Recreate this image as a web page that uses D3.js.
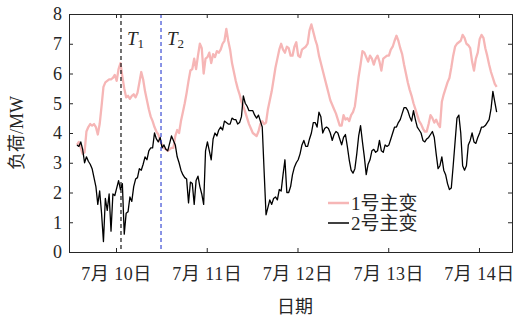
<!DOCTYPE html>
<html>
<head>
<meta charset="utf-8">
<script src="https://cdn.jsdelivr.net/npm/d3@7"></script>
<style>
  html, body { margin: 0; padding: 0; background: #fff; }
  text { font-family: "Liberation Serif", "Noto Sans CJK SC", serif; fill: #262626; }
</style>
</head>
<body>
<svg id="chart" width="514" height="316"></svg>
<script>
// ---- data ----
const startDay = 9.57;              // first sample (day of July)
const stepDay = 1 / 48;             // half-hourly samples
const seriesNames = ["1号主变", "2号主变"];
const load1 = [3.6,3.7,3.5,3.3,3.35,4.05,4.2,4.3,4.25,4.3,4.2,3.95,4.3,4.9,5.55,5.7,5.75,5.8,5.8,5.85,
  5.95,5.75,6.15,6.35,5.9,5.5,5.2,5.25,5.15,5.25,5.3,5.2,5.35,5.7,6.05,5.8,5.4,5.1,4.8,4.55,
  4.4,4.2,4.05,3.95,3.75,3.6,3.5,3.45,3.4,3.45,3.5,3.5,3.9,4.1,4.0,4.4,4.7,5.0,5.35,5.75,
  6.1,6.15,6.5,6.15,6.6,7.0,6.85,6.0,6.5,6.55,6.7,6.35,6.65,6.55,6.75,6.7,6.8,7.0,7.1,7.5,
  7.1,6.8,6.35,6.05,5.75,5.5,5.3,5.05,4.9,4.7,4.5,4.3,4.15,4.0,3.95,3.9,4.05,4.3,4.4,4.3,
  4.35,4.8,5.1,5.4,5.8,6.2,6.5,6.8,7.0,6.8,6.7,6.9,6.85,6.6,6.6,6.9,7.05,6.6,6.55,6.8,
  6.85,6.9,7.0,7.45,7.65,7.4,7.15,6.95,6.6,6.35,6.1,5.85,5.6,5.35,5.1,4.95,4.8,4.65,4.45,4.25,
  4.25,4.6,4.45,4.5,4.4,4.6,4.7,4.9,5.4,5.9,6.3,6.75,6.7,6.55,6.4,6.6,6.5,6.3,6.5,6.6,
  6.4,6.1,6.5,6.55,6.6,6.6,6.8,6.9,7.1,7.27,7.1,6.85,6.65,6.3,6.0,5.7,5.45,5.25,5.0,4.8,
  4.6,4.4,4.3,4.15,4.05,4.05,4.3,4.6,4.5,4.35,4.45,4.3,4.2,5.05,5.3,5.5,5.7,5.85,6.2,6.6,
  6.9,7.0,7.05,7.1,7.3,7.2,7.0,6.95,6.85,6.4,6.1,6.5,6.7,7.15,7.3,7.2,6.85,6.6,6.3,6.05,
  5.85,5.65,5.55];
const load2 = [3.6,3.55,3.7,3.45,3.0,3.2,3.05,2.95,2.8,2.5,2.2,1.6,2.05,1.3,0.35,1.8,1.4,1.95,0.7,1.95,
  1.9,2.15,2.4,2.1,2.3,0.6,1.3,1.35,1.85,1.7,2.2,2.45,2.5,2.8,2.75,2.95,3.2,3.1,3.4,3.5,
  3.5,4.0,3.8,3.7,3.85,3.5,3.6,3.45,3.4,3.65,3.9,3.75,3.6,3.2,3.0,2.75,2.6,2.5,2.45,1.65,
  2.35,2.3,1.6,2.4,2.55,2.2,1.95,1.6,3.4,3.7,3.4,3.1,3.8,4.0,3.9,4.1,4.2,4.1,4.4,4.35,
  4.3,4.3,4.5,4.45,4.45,4.3,4.35,4.55,5.25,5.0,4.9,4.75,4.75,4.75,4.6,4.5,4.6,4.4,4.2,2.7,
  1.25,1.5,1.75,1.6,1.8,1.85,1.75,2.1,2.05,2.6,3.1,2.0,2.0,2.2,2.6,2.85,3.0,3.1,3.3,3.6,
  3.75,3.55,3.55,3.8,4.0,4.35,4.35,4.2,4.7,4.55,4.0,4.15,4.2,4.15,4.0,3.75,3.95,4.05,4.0,3.8,
  3.6,3.85,3.95,3.55,3.1,2.75,2.65,2.8,3.3,3.9,4.25,3.7,3.2,2.6,2.95,3.1,3.4,3.45,3.35,3.4,
  3.75,3.4,3.35,3.6,3.55,3.6,3.8,4.0,4.2,4.2,4.35,4.45,4.65,4.85,4.85,4.75,4.55,4.4,4.75,4.45,
  4.2,4.1,4.0,3.75,3.7,3.8,3.85,3.95,4.05,3.85,3.3,2.8,2.9,3.2,2.75,2.6,2.3,2.1,2.15,2.9,
  3.7,4.5,4.6,4.0,2.9,2.75,2.9,3.6,3.75,4.0,3.7,3.65,3.85,4.0,4.2,4.2,4.25,4.35,4.45,4.8,
  5.4,5.05,4.7];
const dayTicks = [10, 11, 12, 13, 14];
const yTicks = [0, 1, 2, 3, 4, 5, 6, 7, 8];
const markerDays = [10.055, 10.496];
const markerLabels = ["1", "2"];

// ---- layout ----
const svg = d3.select("#chart");
const L = 69, R = 512, T = 14, B = 252;
const x = d3.scaleLinear().domain([9.482, 14.364]).range([L, R]);
const y = d3.scaleLinear().domain([0, 8]).range([B, T]);
const colors = ["#f6b6b6", "#000000"];
const widths = [2.3, 1.3];

svg.append("defs").append("clipPath").attr("id", "clip")
  .append("rect").attr("x", L).attr("y", T).attr("width", R - L).attr("height", B - T);

const line = d3.line().x((d, i) => x(startDay + i * stepDay)).y(d => y(d));
const plot = svg.append("g").attr("clip-path", "url(#clip)");
[load1, load2].forEach((s, k) => {
  plot.append("path").datum(s).attr("d", line)
    .attr("fill", "none").attr("stroke", colors[k]).attr("stroke-width", widths[k])
    .attr("stroke-linejoin", "round");
});

// dashed markers
const markColors = ["#000000", "#2a3bd0"];
markerDays.forEach((d, k) => {
  svg.append("line").attr("x1", x(d)).attr("x2", x(d)).attr("y1", T).attr("y2", B)
    .attr("stroke", markColors[k]).attr("stroke-width", 1.1).attr("stroke-dasharray", "4,3");
  const t = svg.append("text").attr("x", x(d) + 6).attr("y", 45)
    .style("font-size", "19px");
  t.append("tspan").text("T").style("font-style", "italic");
  t.append("tspan").text(markerLabels[k]).attr("dy", 3).style("font-size", "13px");
});

// axes
const fmtDay = d => "7月 " + d + "日";
const axB = svg.append("g").attr("transform", `translate(0,${B})`)
  .call(d3.axisBottom(x).tickValues(dayTicks).tickFormat(fmtDay).tickSize(-4).tickPadding(15));
const axT = svg.append("g").attr("transform", `translate(0,${T})`)
  .call(d3.axisTop(x).tickValues(dayTicks).tickFormat("").tickSize(-4));
const axL = svg.append("g").attr("transform", `translate(${L},0)`)
  .call(d3.axisLeft(y).tickValues(yTicks).tickSize(-4).tickPadding(7));
const axR = svg.append("g").attr("transform", `translate(${R},0)`)
  .call(d3.axisRight(y).tickValues(yTicks).tickFormat("").tickSize(-4));
[axB, axT, axL, axR].forEach(a => {
  a.select(".domain").attr("stroke", "#262626").attr("stroke-width", 1);
  a.selectAll(".tick line").attr("stroke", "#262626");
  a.selectAll("text").attr("fill", "#262626").style("font-family", '"Liberation Serif", "Noto Sans CJK SC", serif');
});
axB.selectAll("text").style("font-size", "18px").style("letter-spacing", "0.5px");
axL.selectAll("text").style("font-size", "18px");

// axis titles
svg.append("text").attr("x", 295).attr("y", 313).attr("text-anchor", "middle")
  .style("font-size", "18px").text("日期");
svg.append("text").attr("transform", `translate(23,${(T + B) / 2}) rotate(-90)`)
  .attr("text-anchor", "middle").style("font-size", "18px").text("负荷/MW");

// legend
const lg = svg.append("g");
seriesNames.forEach((n, k) => {
  const yy = 203 + k * 20;
  lg.append("line").attr("x1", 328).attr("x2", 349).attr("y1", yy).attr("y2", yy)
    .attr("stroke", colors[k]).attr("stroke-width", widths[k] + 0.2);
  lg.append("text").attr("x", 351).attr("y", yy + 7).style("font-size", "19px").text(n);
});
</script>
</body>
</html>
